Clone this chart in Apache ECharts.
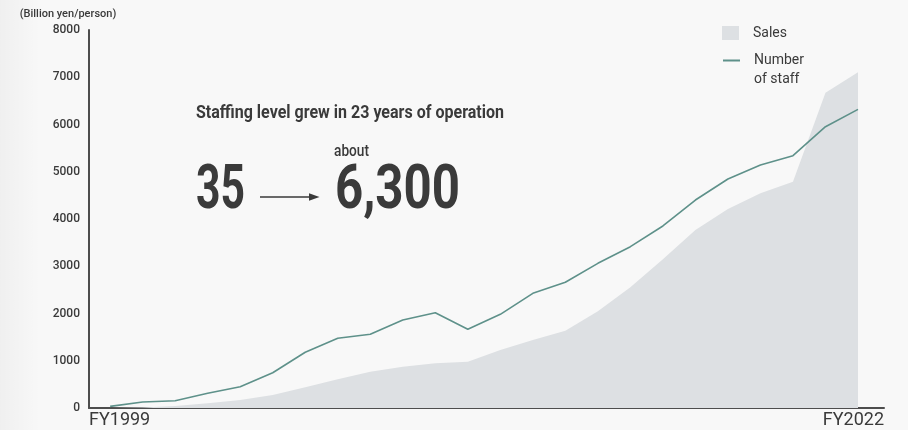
<!DOCTYPE html>
<html><head><meta charset="utf-8">
<script src="https://cdn.jsdelivr.net/npm/echarts@6/dist/echarts.min.js"></script>
<style>html,body{margin:0;padding:0;background:#f8f8f8}#c{width:908px;height:430px}</style>
</head><body><div id="c"></div>
<script>
// ---- data ----
const years = [1999,2000,2001,2002,2003,2004,2005,2006,2007,2008,2009,2010,2011,2012,2013,2014,2015,2016,2017,2018,2019,2020,2021,2022];
const staff = [35,127,155,311,451,747,1179,1475,1560,1862,2017,1666,1983,2427,2660,3062,3414,3852,4402,4847,5143,5340,5954,6320];
const sales = [0,10,42,99,169,275,438,607,768,874,946,980,1228,1439,1636,2050,2554,3147,3767,4212,4544,4790,6673,7105];
const yTickValues = [0,1000,2000,3000,4000,5000,6000,7000,8000];
const xTickLabels = ['FY1999','FY2022'];
const seriesNames = ['Sales','Number of staff'];
const yAxisName = '(Billion yen/person)';
const headline = 'Staffing level grew in 23 years of operation';
const fromValue = '35';
const toPrefix = 'about';
const toValue = '6,300';

// ---- layout ----
const X_MIN = 1998.35, X_MAX = 2022.8;
const TXT = '#3a3a3a';
const FF = 'Roboto';

const mctx = document.createElement('canvas').getContext('2d');
function fitScale(text, font, w){ mctx.font = font; return w / mctx.measureText(text).width; }
function condText(text, font, left, y, w, extra){
  const s = fitScale(text, font, w);
  return Object.assign({type:'text', x:left, y:y, scaleX:s, originX:0, originY:0, silent:true,
    style:{text:text, font:font, fill:TXT, textAlign:'left', textVerticalAlign:'middle'}}, extra||{});
}

const chart = echarts.init(document.getElementById('c'), null, {renderer:'canvas'});
chart.setOption({
  backgroundColor:'#f8f8f8',
  animation:false,
  grid:{left:89, right:24, top:30, bottom:22, outerBoundsMode:'none', containLabel:false},
  legend:[
    {data:[{name:seriesNames[0], icon:'rect'}], left:722, top:26, padding:0, itemWidth:17, itemHeight:14,
     textStyle:{color:TXT, fontSize:14, fontFamily:FF, padding:[0,0,0,9]}},
    {data:[{name:seriesNames[1]}], left:722, top:32, padding:0, itemWidth:17, itemHeight:14,
     itemStyle:{opacity:0},
     formatter:()=> '\nNumber\nof staff',
     textStyle:{color:TXT, fontSize:14, fontFamily:FF, lineHeight:19, padding:[0,0,0,9]}}
  ],
  xAxis:{type:'value', min:X_MIN, max:X_MAX,
    axisLine:{show:true, onZero:false, lineStyle:{color:'#4d4d4d', width:2}},
    axisTick:{show:false}, splitLine:{show:false},
    axisLabel:{customValues:[X_MIN, X_MAX], showMinLabel:true, showMaxLabel:true,
      alignMinLabel:'left', alignMaxLabel:'right',
      formatter:(v)=> v < (X_MIN+X_MAX)/2 ? xTickLabels[0] : xTickLabels[1],
      color:TXT, fontSize:18, fontFamily:FF, margin:3}
  },
  yAxis:{type:'value', min:yTickValues[0], max:yTickValues[yTickValues.length-1], interval:1000,
    name:yAxisName, nameLocation:'end', nameGap:10,
    nameTextStyle:{color:TXT, fontSize:11, fontFamily:FF, fontWeight:500, align:'center', padding:[0,42,0,0]},
    axisLine:{show:true, lineStyle:{color:'#4d4d4d', width:2}},
    axisTick:{show:false}, splitLine:{show:false},
    axisLabel:{color:TXT, fontSize:12, fontWeight:500, fontFamily:FF, margin:9, formatter:(v)=> String(v)}
  },
  series:[
    {name:seriesNames[0], type:'line', symbol:'none', data:years.map((y,i)=>[y, sales[i]]),
     itemStyle:{color:'#dde0e3'}, lineStyle:{width:0, color:'#dde0e3'},
     areaStyle:{color:'#dde0e3', opacity:1}, z:1},
    {name:seriesNames[1], type:'line', symbol:'none', data:years.map((y,i)=>[y, staff[i]]),
     itemStyle:{color:'#5e918a'}, lineStyle:{width:1.6, color:'#5e918a'}, z:3}
  ],
  graphic:[
    {type:'rect', left:0, top:0, shape:{width:40, height:430}, silent:true, z:-10,
     style:{fill:new echarts.graphic.LinearGradient(0,0,1,0,[{offset:0,color:'rgba(0,0,0,0.035)'},{offset:1,color:'rgba(0,0,0,0)'}])}},
    condText(headline, 'bold 19px '+FF, 196, 113, 308),
    condText(toPrefix, '500 17px '+FF, 334, 152, 35),
    condText(fromValue, 'bold 61px '+FF, 196, 193, 49),
    condText(toValue, 'bold 61px '+FF, 335, 193, 125),
    {type:'line', silent:true, shape:{x1:260, y1:197, x2:312, y2:197}, style:{stroke:TXT, lineWidth:1.3}},
    {type:'polygon', silent:true, shape:{points:[[309,193.2],[319.5,197],[309,200.8]]}, style:{fill:TXT}}
  ]
});
</script></body></html>
